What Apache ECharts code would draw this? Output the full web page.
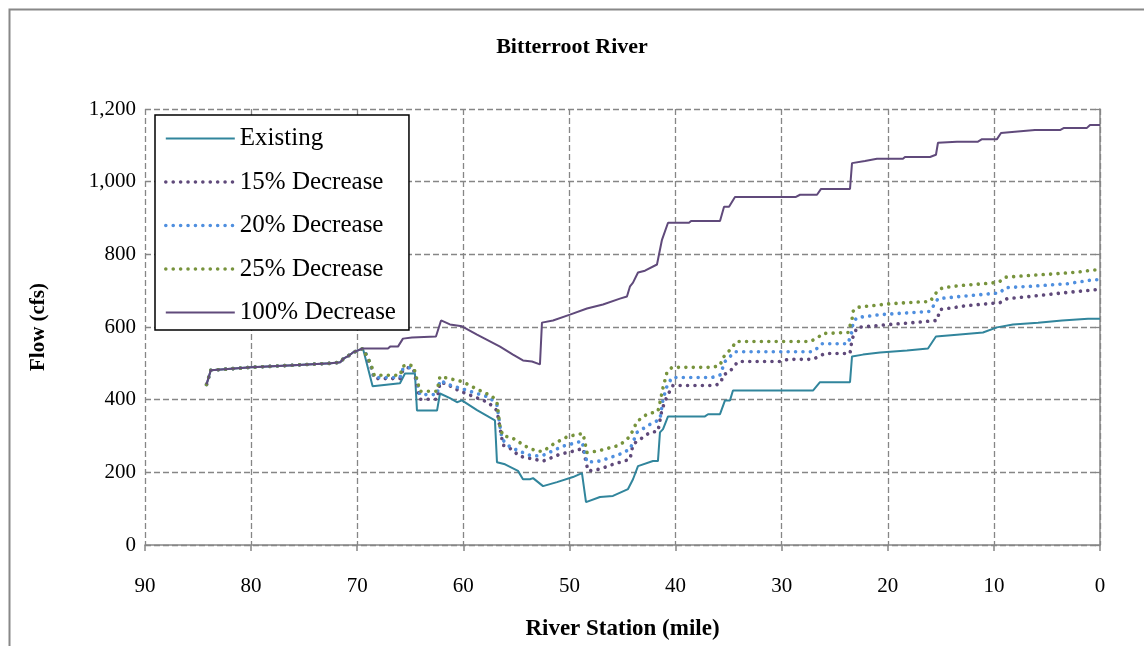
<!DOCTYPE html>
<html>
<head>
<meta charset="utf-8">
<script src="https://cdn.jsdelivr.net/npm/echarts@6/dist/echarts.min.js"></script>
<style>
html,body{margin:0;padding:0;background:#fff;}
#chart{width:1144px;height:646px;}
</style>
</head>
<body>
<div id="chart"></div>
<script>
// ---- Data (river mile, flow cfs) ----
var chartTitle = 'Bitterroot River';
var xAxisTitle = 'River Station (mile)';
var yAxisTitle = 'Flow (cfs)';
var seriesNames = ['Existing', '15% Decrease', '20% Decrease', '25% Decrease', '100% Decrease'];

// shared upstream reach (all scenarios identical)
var upstreamReach = [
  [84.2, 442], [83.8, 481], [80.0, 489], [76.0, 495], [72.5, 500], [71.6, 503],
  [71.3, 513], [70.9, 519], [70.4, 530], [69.9, 536], [69.46, 541]
];

var existingFlow = [
  [68.55, 437], [65.97, 445], [65.5, 472], [64.56, 472], [64.37, 370], [62.48, 370],
  [62.2, 417], [61.26, 404], [60.6, 393], [60.13, 398], [58.71, 371], [57.02, 343],
  [56.83, 228], [56.07, 222], [54.85, 204], [54.38, 181], [53.72, 181], [53.43, 184],
  [52.96, 173], [52.49, 162], [51.17, 173], [49.67, 187], [48.82, 198], [48.44, 118],
  [47.12, 132], [45.9, 135], [44.48, 154], [44.01, 181], [43.54, 217], [42.13, 231],
  [41.66, 231], [41.47, 310], [41.18, 319], [40.71, 354], [37.23, 354], [36.94, 360],
  [35.81, 360], [35.34, 398], [34.87, 398], [34.59, 425], [27.05, 425], [26.39, 448],
  [23.56, 448], [23.37, 519], [22.34, 524], [20.73, 530], [18.19, 535], [16.21, 541],
  [15.46, 574], [13.48, 579], [11.03, 585], [9.71, 599], [8.2, 607], [5.84, 612],
  [3.58, 618], [1.13, 623], [0, 623]
];

var decrease15Flow = [
  [69.3, 532], [68.7, 490], [68.4, 458], [65.97, 458], [65.69, 482], [65.2, 488],
  [64.7, 484], [64.37, 440], [64.09, 401], [62.48, 401], [62.2, 447], [61.73, 445],
  [60.5, 426], [57.68, 393], [56.83, 370], [56.26, 275], [55.6, 266], [54.66, 244],
  [52.49, 231], [50.89, 250], [49.67, 258], [48.72, 266], [48.25, 204], [47.12, 209],
  [45.9, 222], [44.29, 236], [44.01, 277], [42.41, 310], [41.66, 313], [41.28, 373],
  [40.81, 409], [40.24, 439], [36.28, 439], [35.72, 447], [35.53, 467], [34.87, 478],
  [34.12, 505], [30.16, 505], [29.4, 511], [27.05, 511], [26.48, 519], [25.92, 527],
  [23.56, 527], [23.37, 566], [22.9, 599], [21.68, 602], [19.79, 607], [17.62, 612],
  [15.36, 618], [15.08, 648], [12.53, 659], [9.42, 667], [8.76, 678], [6.6, 684],
  [3.49, 694], [0.28, 703], [0, 703]
];

var decrease20Flow = [
  [69.3, 535], [68.7, 495], [68.4, 461], [65.97, 461], [65.69, 485], [65.2, 489],
  [64.7, 486], [64.37, 450], [64.09, 414], [62.48, 414], [62.2, 453], [61.45, 442],
  [59.37, 423], [57.49, 406], [56.83, 385], [56.36, 291], [55.6, 270], [54.85, 260],
  [53.9, 248], [53.3, 245], [52.49, 247], [50.6, 272], [48.82, 286], [48.35, 228],
  [47.12, 231], [45.24, 250], [44.29, 264], [43.63, 310], [42.41, 332], [41.47, 346],
  [41.18, 401], [40.81, 437], [40.34, 461], [36.57, 461], [35.81, 468], [35.34, 505],
  [34.4, 532], [27.14, 532], [26.67, 541], [26.2, 554], [23.75, 554], [23.37, 588],
  [23.28, 612], [22.9, 626], [20.73, 634], [19.13, 637], [16.02, 643], [15.27, 678],
  [13.19, 684], [10.18, 692], [9.42, 694], [8.95, 708], [6.6, 712], [3.11, 719],
  [0.66, 730], [0, 730]
];

var decrease25Flow = [
  [69.3, 538], [68.7, 497], [68.4, 467], [65.97, 467], [65.69, 492], [65.2, 497],
  [64.7, 492], [64.37, 455], [64.09, 423], [62.48, 423], [62.2, 464], [60.13, 450],
  [58.15, 421], [57.3, 410], [56.83, 393], [56.54, 324], [56.26, 300], [55.6, 297],
  [54.94, 288], [54.38, 275], [53.06, 258], [52.49, 258], [51.55, 277], [50.14, 299],
  [48.72, 307], [48.35, 255], [47.4, 258], [45.24, 275], [44.29, 299], [43.63, 340],
  [42.69, 360], [41.66, 368], [41.47, 392], [41.18, 433], [40.81, 475], [40.34, 489],
  [36.57, 489], [35.81, 494], [35.53, 516], [34.68, 543], [34.3, 560], [27.33, 560],
  [26.58, 571], [26.1, 582], [23.75, 585], [23.37, 621], [23.28, 643], [22.9, 654],
  [21.39, 659], [19.79, 664], [17.62, 668], [16.02, 670], [15.27, 701], [14.8, 708],
  [13.19, 714], [10.18, 721], [9.42, 726], [8.95, 737], [6.6, 742], [4.43, 746],
  [2.17, 751], [0.66, 757], [0, 757]
];

var decrease100Flow = [
  [67.1, 541], [66.9, 546], [66.16, 546], [65.69, 568], [64.84, 571], [62.58, 574],
  [62.1, 618], [61.26, 607], [60.13, 602], [58.71, 579], [56.54, 546], [55.32, 524],
  [54.38, 508], [53.53, 505], [52.78, 497], [52.59, 612], [51.55, 618], [49.95, 634],
  [48.35, 651], [46.84, 662], [45.24, 678], [44.58, 684], [44.29, 712], [44.01, 722],
  [43.54, 750], [42.88, 755], [41.75, 772], [41.28, 840], [40.71, 887], [38.73, 887],
  [38.54, 892], [35.81, 892], [35.43, 931], [34.96, 931], [34.4, 958], [28.65, 958],
  [28.27, 964], [26.67, 964], [26.29, 980], [23.56, 980], [23.37, 1051], [22.15, 1057],
  [21.02, 1063], [18.57, 1063], [18.38, 1068], [16.02, 1068], [15.46, 1074], [15.27, 1107],
  [13.48, 1110], [11.5, 1110], [11.12, 1117], [9.71, 1117], [9.33, 1134], [8.29, 1137],
  [6.13, 1142], [3.77, 1142], [3.39, 1148], [1.23, 1148], [0.94, 1156], [0, 1156]
];

var seriesColors = ['#31859C', '#5F497A', '#4F8FDF', '#77933C', '#604A7B'];
var seriesDotted = [false, true, true, true, false];

// ---- Chart ----
var FONT = '"Liberation Serif", "Times New Roman", serif';
var GRID_COLOR = '#868686';
var chart = echarts.init(document.getElementById('chart'), null, {renderer: 'canvas'});

function lineStyleFor(i) {
  return seriesDotted[i]
    ? {color: seriesColors[i], width: 3.6, type: [0.01, 7.4], cap: 'round'}
    : {color: seriesColors[i], width: 2, type: 'solid'};
}
var seriesData = [
  upstreamReach.concat(existingFlow),
  upstreamReach.concat(decrease15Flow),
  upstreamReach.concat(decrease20Flow),
  upstreamReach.concat(decrease25Flow),
  upstreamReach.concat(decrease100Flow)
];

var option = {
  backgroundColor: '#fff',
  animation: false,
  title: {
    text: chartTitle, left: 'center', top: 31,
    textStyle: {fontFamily: FONT, fontSize: 22, fontWeight: 'bold', color: '#000'}
  },
  grid: {left: 145, right: 44, top: 109, bottom: 100, containLabel: false},
  legend: {
    orient: 'vertical', left: 155, top: 115,
    padding: [11, 13, 5, 9],
    itemWidth: 69, itemHeight: 14, itemGap: 18.5,
    backgroundColor: '#fff', borderColor: '#000', borderWidth: 1.5,
    itemStyle: {opacity: 0},
    textStyle: {fontFamily: FONT, fontSize: 25, color: '#000', lineHeight: 25},
    data: seriesNames.map(function (n, i) {
      return {name: n, lineStyle: lineStyleFor(i), itemStyle: {opacity: 0}};
    })
  },
  xAxis: {
    type: 'value', inverse: true, min: 0, max: 90, interval: 10,
    name: xAxisTitle, nameLocation: 'middle', nameGap: 73,
    nameTextStyle: {fontFamily: FONT, fontSize: 23, fontWeight: 'bold', color: '#000'},
    axisLine: {show: true, onZero: false, lineStyle: {color: GRID_COLOR, width: 1.5}},
    axisTick: {show: true, inside: false, length: 6, lineStyle: {color: GRID_COLOR, width: 1.5}},
    axisLabel: {fontFamily: FONT, fontSize: 21, color: '#000', margin: 31},
    splitLine: {show: true, lineStyle: {color: GRID_COLOR, width: 1.3, type: [6, 3]}}
  },
  yAxis: [{
    type: 'value', min: 0, max: 1200, interval: 200, position: 'left',
    name: yAxisTitle, nameLocation: 'middle', nameGap: 96, nameRotate: 90,
    nameTextStyle: {fontFamily: FONT, fontSize: 21, fontWeight: 'bold', color: '#000'},
    axisLine: {show: false},
    axisTick: {show: true, inside: false, length: 5, lineStyle: {color: GRID_COLOR, width: 1.3}},
    axisLabel: {
      fontFamily: FONT, fontSize: 21, color: '#000', margin: 9,
      formatter: function (v) { return v.toLocaleString('en-US'); }
    },
    splitLine: {show: true, lineStyle: {color: GRID_COLOR, width: 1.3, type: [6, 3]}}
  }, {
    type: 'value', min: 0, max: 1200, interval: 200, position: 'right',
    axisLine: {show: true, lineStyle: {color: GRID_COLOR, width: 1.5}},
    axisTick: {show: false}, axisLabel: {show: false}, splitLine: {show: false}
  }],
  graphic: [{
    type: 'rect', left: 7, top: 7, silent: true, z: -10,
    shape: {width: 1136, height: 660},
    style: {fill: 'none', stroke: '#888', lineWidth: 2}
  }],
  series: seriesNames.map(function (n, i) {
    return {
      name: n, type: 'line', data: seriesData[i], symbol: 'none', animation: false,
      lineStyle: lineStyleFor(i), itemStyle: {color: seriesColors[i]}
    };
  })
};
chart.setOption(option);
</script>
</body>
</html>
